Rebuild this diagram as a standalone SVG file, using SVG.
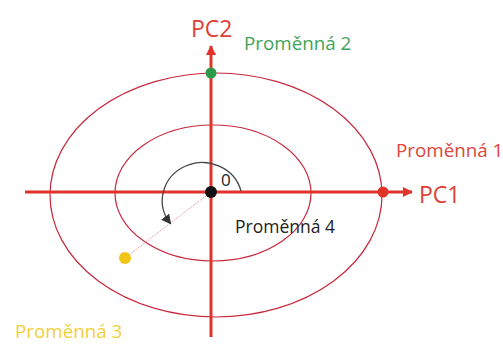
<svg xmlns="http://www.w3.org/2000/svg" width="503" height="353" viewBox="0 0 503 353">
<style>
text{font-family:"Open Sans","Noto Sans","Liberation Sans",sans-serif}
.ell{fill:none;stroke:#c8283c;stroke-width:1.2}
.axis{stroke:#e2332b;stroke-width:3;fill:none}
.lbl{font-size:18.8px}
.pc{font-size:23px;fill:#df3f35}
</style>
<defs>
<marker id="ah" viewBox="0 0 10 10" refX="9" refY="5" markerWidth="10" markerHeight="10" markerUnits="userSpaceOnUse" orient="auto">
<path d="M0,0 L10,5 L0,10 z" fill="#e2332b"/>
</marker>
<marker id="ahg" viewBox="0 0 10 10" refX="8" refY="5" markerWidth="10" markerHeight="10" markerUnits="userSpaceOnUse" orient="auto">
<path d="M0,0 L10,5 L0,10 z" fill="#333"/>
</marker>
</defs>
<rect width="503" height="353" fill="#fff"/>
<g id="ellipses">
<ellipse class="ell" cx="216" cy="195" rx="166" ry="122"/>
<ellipse class="ell" cx="213" cy="193" rx="98" ry="68"/>
</g>
<g id="connectors">
<line class="axis" x1="25" y1="192" x2="412" y2="192" marker-end="url(#ah)"/>
<line class="axis" x1="211" y1="337" x2="211" y2="46" marker-end="url(#ah)"/>
<line x1="211" y1="192" x2="125" y2="258" stroke="#f0a0b0" stroke-width="1" stroke-dasharray="2,1"/>
<path d="M241,191 A40,38 0 1 0 170,223" fill="none" stroke="#444" stroke-width="1.3" marker-end="url(#ahg)"/>
</g>
<g id="center"><circle cx="211" cy="192" r="6" fill="#111"/></g>
<g id="var1"><circle cx="383" cy="192" r="5.5" fill="#e2332b"/><text class="lbl" x="396" y="157" fill="#e0443a">Proměnná 1</text></g>
<g id="var2"><circle cx="211" cy="73" r="5.5" fill="#2a9a48"/><text class="lbl" x="244" y="50" fill="#3fa35a">Proměnná 2</text></g>
<g id="var3"><circle cx="125" cy="258" r="6" fill="#f2c416"/><text class="lbl" x="15" y="338" fill="#f2cf3a">Proměnná 3</text></g>
<g id="var4"><text x="235" y="233" font-size="17.5" fill="#222">Proměnná 4</text></g>
<g id="pc1"><text class="pc" x="419" y="203">PC1</text></g>
<g id="pc2"><text class="pc" x="191" y="37">PC2</text></g>
<g id="angle"><text x="221" y="186" font-size="17" fill="#222">0</text></g>
</svg>
